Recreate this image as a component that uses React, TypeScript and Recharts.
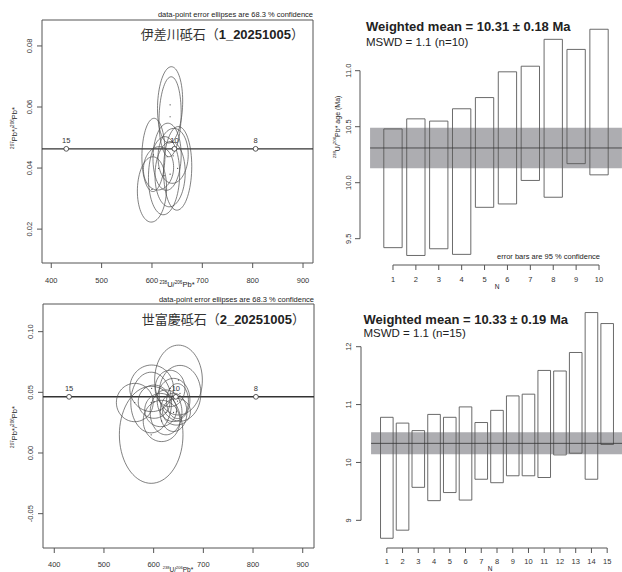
import React from 'react';
import { ScatterChart, ComposedChart, Scatter, XAxis, YAxis, ReferenceArea, ReferenceLine, LabelList } from 'recharts';

const FONT = '"Liberation Sans", Arial, Helvetica, sans-serif';
const CJK = '"Noto Sans CJK JP", "Noto Sans CJK SC", sans-serif';
const INK = '#333';
const AXIS = '#555';

// sample 1 (伊差川砥石): ellipse centres, half axes and correlation
const ellX1 = [636, 636, 603, 600, 651, 630, 624, 636, 613, 642];
const ellY1 = [0.0607, 0.0568, 0.0443, 0.033, 0.0399, 0.0437, 0.0375, 0.038, 0.0399, 0.044];
const ellSX1 = [25, 22, 23, 29, 28, 28, 31, 30, 30, 30];
const ellSY1 = [0.0125, 0.0131, 0.012, 0.0107, 0.0137, 0.011, 0.0128, 0.0107, 0.0071, 0.009];
const ellRho1 = [0.1, 0.1, 0.05, 0.05, 0.05, 0.05, 0.05, 0.05, 0.05, 0.05];

// sample 2 (世富慶砥石)
const ellX2 = [650, 595, 562, 595, 596, 653, 616, 640, 646, 625, 648, 614, 633, 601, 640];
const ellY2 = [0.0601, 0.015, 0.0416, 0.0416, 0.0533, 0.0492, 0.0264, 0.0437, 0.034, 0.0335, 0.0428, 0.0354, 0.0532, 0.0423, 0.0335];
const ellSX2 = [48, 64, 37, 41, 44, 42, 37, 33, 28, 32, 22, 32, 30, 32, 27];
const ellSY2 = [0.0288, 0.04, 0.0158, 0.025, 0.0192, 0.023, 0.017, 0.0178, 0.011, 0.0185, 0.0144, 0.0137, 0.015, 0.0137, 0.0158];

// concordia age marks (Ma)
const concAges = [15, 10, 8];
const concX = [429.8, 644.6, 805.8];
const concY = [0.0463, 0.0463, 0.0463];

// weighted mean ages, 95% error boxes
const lo1 = [9.42, 9.35, 9.41, 9.36, 9.78, 9.81, 10.02, 9.87, 10.17, 10.07];
const hi1 = [10.48, 10.57, 10.55, 10.66, 10.76, 10.99, 11.04, 11.28, 11.19, 11.37];
const mean1 = 10.31;
const err1 = 0.18;

const lo2 = [8.69, 8.83, 9.57, 9.34, 9.48, 9.35, 9.71, 9.65, 9.77, 9.77, 9.74, 10.13, 10.16, 9.71, 10.31];
const hi2 = [10.78, 10.68, 10.55, 10.83, 10.78, 10.96, 10.69, 10.9, 11.15, 11.18, 11.59, 11.58, 11.9, 12.59, 12.4];
const mean2 = 10.33;
const err2 = 0.19;

const ellipse = (cx: number, cy: number, sx: number, sy: number, rho: number) => {
  const pts = [];
  const k = Math.sqrt(1 - rho * rho);
  for (let i = 0; i <= 72; i++) {
    const t = (i / 72) * 2 * Math.PI;
    pts.push({ x: cx + sx * Math.cos(t), y: cy + sy * (rho * Math.cos(t) + k * Math.sin(t)) });
  }
  return pts;
};

const XTick = ({ x, y, payload, dy, fmt }: any) => (
  <text x={x} y={y + dy} textAnchor="middle" fontSize={7.5} fill={INK} fontFamily={FONT}>
    {fmt ? fmt(payload.value) : payload.value}
  </text>
);

const YTick = ({ x, y, payload, dx, fmt }: any) => {
  const bx = x - dx;
  return (
    <text x={bx} y={y} transform={`rotate(-90 ${bx} ${y})`} textAnchor="middle" fontSize={7.5} fill={INK} fontFamily={FONT}>
      {fmt(payload.value)}
    </text>
  );
};

const Txt = ({ x, y, anchor = 'start', size = 7.5, bold = false, rotate = false, family = FONT, children }: any) => {
  const tx = anchor === 'middle' ? '-50%' : anchor === 'end' ? '-100%' : '0';
  return (
    <div
      style={{
        position: 'absolute',
        left: x,
        top: y,
        transform: `translate(${tx}, -50%)${rotate ? ' rotate(-90deg)' : ''}`,
        fontSize: size,
        fontWeight: bold ? 700 : 400,
        fontFamily: family,
        color: '#222',
        whiteSpace: 'nowrap',
        lineHeight: 1,
      }}
    >
      {children}
    </div>
  );
};

const Sup = ({ children }: any) => (
  <span style={{ fontSize: '0.62em', verticalAlign: 'super', lineHeight: 0 }}>{children}</span>
);

const noShape = () => <g />;

const Concordia = ({ xs, ys, sxs, sys, rhos, xDom, yDom, yTicks, w, h, margin, xh, xdy }: any) => {
  const conc = concAges.map((a, i) => ({ age: a, x: concX[i], y: concY[i] }));
  const centres = xs.map((x: number, i: number) => ({ x, y: ys[i] }));
  return (
    <ScatterChart width={w} height={h} margin={margin}>
      <XAxis
        type="number"
        dataKey="x"
        domain={xDom}
        ticks={[400, 500, 600, 700, 800, 900]}
        interval={0}
        allowDataOverflow
        height={xh}
        axisLine={false}
        tickLine={{ stroke: AXIS }}
        tickSize={5}
        tickMargin={0}
        tick={<XTick dy={xdy} />}
      />
      <YAxis
        type="number"
        dataKey="y"
        domain={yDom}
        ticks={yTicks}
        interval={0}
        allowDataOverflow
        width={30}
        axisLine={false}
        tickLine={{ stroke: AXIS }}
        tickSize={5}
        tickMargin={0}
        tick={<YTick dx={5.3} fmt={(v: number) => v.toFixed(2)} />}
      />
      <ReferenceArea x1={xDom[0]} x2={xDom[1]} y1={yDom[0]} y2={yDom[1]} fill="none" stroke={AXIS} strokeWidth={1} ifOverflow="visible" />
      {xs.map((x: number, i: number) => (
        <Scatter
          key={i}
          data={ellipse(x, ys[i], sxs[i], sys[i], rhos ? rhos[i] : 0)}
          line={{ stroke: '#4a4a4a', strokeWidth: 0.7 }}
          shape={noShape}
          legendType="none"
          isAnimationActive={false}
        />
      ))}
      <Scatter data={centres} fill="#333" shape={(p: any) => <circle cx={p.cx} cy={p.cy} r={0.6} fill="#333" />} isAnimationActive={false} />
      <ReferenceLine y={0.0463} stroke="#333" strokeWidth={1.4} ifOverflow="visible" />
      <Scatter
        data={conc}
        shape={(p: any) => <circle cx={p.cx} cy={p.cy} r={2.4} fill="#fff" stroke="#333" strokeWidth={0.8} />}
        isAnimationActive={false}
      >
        <LabelList dataKey="age" position="top" offset={1.5} fontSize={7.5} fill={INK} fontFamily={FONT} />
      </Scatter>
    </ScatterChart>
  );
};

const WeightedMean = ({ lo, hi, mean, err, xDom, yDom, yTicks, yFmt, w, h, margin, xh, xdy, ydx }: any) => {
  const rows = lo.map((l: number, i: number) => ({ n: i + 1, lo: l, hi: hi[i] }));
  const n = rows.length;
  const nTicks = rows.map((r: any) => r.n);
  return (
    <ComposedChart width={w} height={h} margin={margin} data={rows}>
      <XAxis
        type="number"
        dataKey="n"
        domain={xDom}
        ticks={nTicks}
        interval={0}
        allowDataOverflow
        height={xh}
        axisLine={false}
        tickLine={{ stroke: AXIS }}
        tickSize={5}
        tickMargin={0}
        tick={<XTick dy={xdy} />}
      />
      <YAxis
        type="number"
        domain={yDom}
        ticks={yTicks}
        interval={0}
        allowDataOverflow
        width={30}
        axisLine={false}
        tickLine={{ stroke: AXIS }}
        tickSize={5}
        tickMargin={0}
        tick={<YTick dx={ydx} fmt={yFmt} />}
      />
      <ReferenceArea x1={0} x2={n + 1} y1={mean - err} y2={mean + err} fill="#adadb1" fillOpacity={1} stroke="none" ifOverflow="visible" />
      {rows.map((r: any) => (
        <ReferenceArea
          key={r.n}
          x1={r.n - 0.4}
          x2={r.n + 0.4}
          y1={r.lo}
          y2={r.hi}
          fill="none"
          stroke="#5a5a5a"
          strokeWidth={0.9}
          ifOverflow="visible"
        />
      ))}
      <ReferenceLine segment={[{ x: 0, y: mean }, { x: n + 1, y: mean }]} stroke="#333" strokeWidth={0.8} ifOverflow="visible" />
      <ReferenceLine segment={[{ x: xDom[0], y: yTicks[0] }, { x: xDom[0], y: yTicks[yTicks.length - 1] }]} stroke={AXIS} ifOverflow="visible" />
      <ReferenceLine segment={[{ x: 1, y: yDom[0] }, { x: n, y: yDom[0] }]} stroke={AXIS} ifOverflow="visible" />
      <Scatter dataKey="hi" shape={noShape} isAnimationActive={false} />
    </ComposedChart>
  );
};

const abs = (left: number, top: number) => ({ position: 'absolute' as const, left, top });

export default function App() {
  return (
    <div style={{ position: 'absolute', left: 0, top: 0, width: 622, height: 572, overflow: 'hidden', background: '#fff' }}>
      <div style={abs(0, 0)}>
        <Concordia
          xs={ellX1}
          ys={ellY1}
          sxs={ellSX1}
          sys={ellSY1}
          rhos={ellRho1}
          xDom={[381.6, 919.8]}
          yDom={[0.0089, 0.0885]}
          yTicks={[0.02, 0.04, 0.06, 0.08]}
          w={320}
          h={290}
          margin={{ top: 20, right: 7, bottom: 0, left: 12 }}
          xh={27}
          xdy={14.5}
        />
      </div>
      <div style={abs(0, 290)}>
        <Concordia
          xs={ellX2}
          ys={ellY2}
          sxs={ellSX2}
          sys={ellSY2}
          xDom={[377.3, 922.7]}
          yDom={[-0.0783, 0.1228]}
          yTicks={[-0.05, 0, 0.05, 0.1]}
          w={320}
          h={282}
          margin={{ top: 14, right: 6, bottom: 0, left: 13 }}
          xh={24}
          xdy={13.7}
        />
      </div>
      <div style={abs(320, 0)}>
        <WeightedMean
          lo={lo1}
          hi={hi1}
          mean={mean1}
          err={err1}
          xDom={[-0.44, 11.44]}
          yDom={[9.265, 11.4527]}
          yTicks={[9.5, 10, 10.5, 11]}
          yFmt={(v: number) => v.toFixed(1)}
          w={312}
          h={290}
          margin={{ top: 20, right: 0, bottom: 0, left: 10 }}
          xh={25}
          xdy={11.7}
          ydx={4}
        />
      </div>
      <div style={abs(320, 290)}>
        <WeightedMean
          lo={lo2}
          hi={hi2}
          mean={mean2}
          err={err2}
          xDom={[-0.64, 16.64]}
          yDom={[8.522, 12.755]}
          yTicks={[9, 10, 11, 12]}
          yFmt={(v: number) => String(v)}
          w={313}
          h={282}
          margin={{ top: 13, right: 0, bottom: 0, left: 11 }}
          xh={24}
          xdy={11.3}
          ydx={5}
        />
      </div>

      {/* concordia panel labels */}
      <Txt x={313} y={14.5} anchor="end">data-point error ellipses are 68.3 % confidence</Txt>
      <Txt x={304} y={34} anchor="end" size={13}>
        <span style={{ fontFamily: CJK, color: '#333' }}>伊差川砥石（</span>
        <b>1_20251005</b>
        <span style={{ fontFamily: CJK, color: '#333' }}>）</span>
      </Txt>
      <Txt x={177} y={285} anchor="middle">
        <Sup>238</Sup>U/<Sup>206</Sup>Pb*
      </Txt>
      <Txt x={15} y={128} anchor="middle" rotate>
        <Sup>207</Sup>Pb*/<Sup>206</Sup>Pb*
      </Txt>

      <Txt x={314} y={300} anchor="end">data-point error ellipses are 68.3 % confidence</Txt>
      <Txt x={305} y={318.5} anchor="end" size={13}>
        <span style={{ fontFamily: CJK, color: '#333' }}>世富慶砥石（</span>
        <b>2_20251005</b>
        <span style={{ fontFamily: CJK, color: '#333' }}>）</span>
      </Txt>
      <Txt x={178} y={570} anchor="middle" size={6.5}>
        <Sup>238</Sup>U/<Sup>206</Sup>Pb*
      </Txt>
      <Txt x={15} y={427} anchor="middle" rotate>
        <Sup>207</Sup>Pb*/<Sup>206</Sup>Pb*
      </Txt>

      {/* weighted mean panel labels */}
      <Txt x={366} y={26} size={13} bold>Weighted mean = 10.31 ± 0.18 Ma</Txt>
      <Txt x={366} y={42.5} size={11.5}>MSWD = 1.1 (n=10)</Txt>
      <Txt x={337} y={127} anchor="middle" size={7} rotate>
        <Sup>238</Sup>U/<Sup>206</Sup>Pb* age (Ma)
      </Txt>
      <Txt x={600} y={256.5} anchor="end">error bars are 95 % confidence</Txt>
      <Txt x={497} y={287} anchor="middle" size={6.5}>N</Txt>

      <Txt x={363.5} y={318.5} size={13} bold>Weighted mean = 10.33 ± 0.19 Ma</Txt>
      <Txt x={363.5} y={333.5} size={11.5}>MSWD = 1.1 (n=15)</Txt>
      <Txt x={490} y={568.5} anchor="middle" size={6.5}>N</Txt>
    </div>
  );
}
